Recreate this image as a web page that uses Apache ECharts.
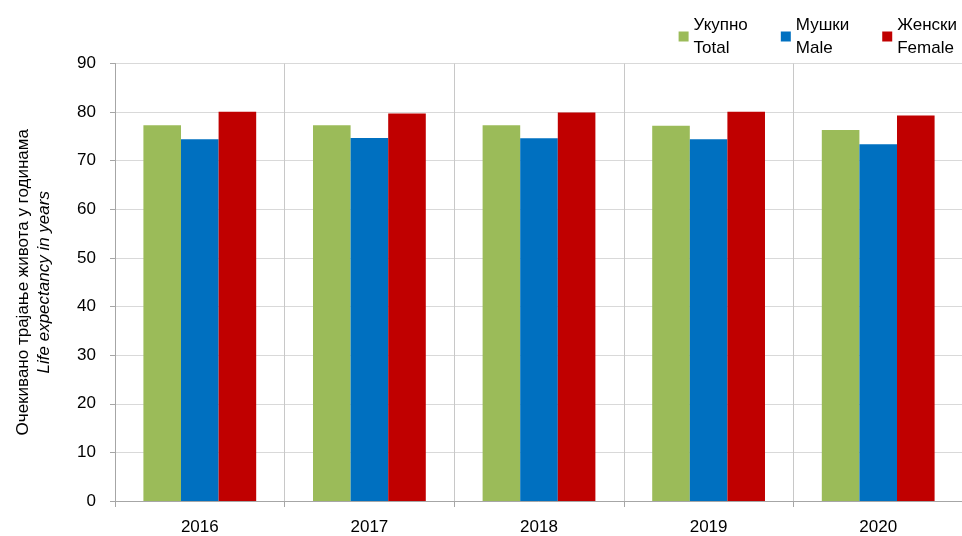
<!DOCTYPE html>
<html><head><meta charset="utf-8">
<script src="https://cdn.jsdelivr.net/npm/echarts@6/dist/echarts.min.js"></script>
<style>html,body{margin:0;padding:0;background:#fff}#c{width:962px;height:536px}</style>
</head><body><div id="c"></div>
<script>
const categories = ['2016','2017','2018','2019','2020'];
const total = [77.3, 77.3, 77.3, 77.2, 76.3];
const male = [74.4, 74.7, 74.6, 74.4, 73.4];
const female = [80.1, 79.7, 79.9, 80.1, 79.3];
const seriesNames = ['Укупно\nTotal', 'Мушки\nMale', 'Женски\nFemale'];
const yTicks = [0, 90, 10];

const FONT = '"Liberation Sans", Arial, sans-serif';
const chart = echarts.init(document.getElementById('c'), null, {renderer: 'canvas'});
const colors = ['#9bbb59', '#0070c0', '#c00000'];
chart.setOption({
  animation: false,
  textStyle: {fontFamily: FONT},
  grid: {left: 115, right: -1, top: 63.5, bottom: 35, containLabel: false, outerBoundsMode: 'none'},
  legend: {
    right: 0, top: -3, itemWidth: 10, itemHeight: 10, itemGap: 33,
    icon: 'rect',
    textStyle: {fontFamily: FONT, fontSize: 17, color: '#000', lineHeight: 23, padding: [23, 0, 0, 0]},
    data: seriesNames
  },
  xAxis: {
    type: 'category', data: categories,
    axisLine: {lineStyle: {color: '#a6a6a6'}},
    axisTick: {show: true, interval: 0, length: 6, lineStyle: {color: '#a6a6a6'}},
    splitLine: {show: true, interval: 0, lineStyle: {color: '#c8c8c8'}},
    axisLabel: {color: '#000', fontSize: 17, fontFamily: FONT, margin: 18}
  },
  yAxis: {
    type: 'value', min: yTicks[0], max: yTicks[1], interval: yTicks[2],
    axisLine: {show: true, lineStyle: {color: '#a6a6a6'}},
    axisTick: {show: true, length: 5, lineStyle: {color: '#a6a6a6'}},
    splitLine: {lineStyle: {color: '#d9d9d9'}},
    axisLabel: {color: '#000', fontSize: 17, fontFamily: FONT, margin: 19},
    name: '{a|Очекивано трајање живота у годинама}\n{b|Life expectancy in years}',
    nameLocation: 'middle', nameRotate: 90, nameGap: 60,
    nameTextStyle: {
      color: '#000', fontFamily: FONT, fontSize: 17, lineHeight: 21,
      rich: {
        a: {fontFamily: FONT, fontSize: 17, color: '#000', lineHeight: 21},
        b: {fontFamily: FONT, fontSize: 17, color: '#000', fontStyle: 'italic', lineHeight: 21}
      }
    }
  },
  series: [
    {name: seriesNames[0], type: 'bar', data: total, itemStyle: {color: colors[0]}, barGap: '0%', barCategoryGap: '33.5%'},
    {name: seriesNames[1], type: 'bar', data: male, itemStyle: {color: colors[1]}, barGap: '0%', barCategoryGap: '33.5%'},
    {name: seriesNames[2], type: 'bar', data: female, itemStyle: {color: colors[2]}, barGap: '0%', barCategoryGap: '33.5%'}
  ]
});
</script></body></html>
